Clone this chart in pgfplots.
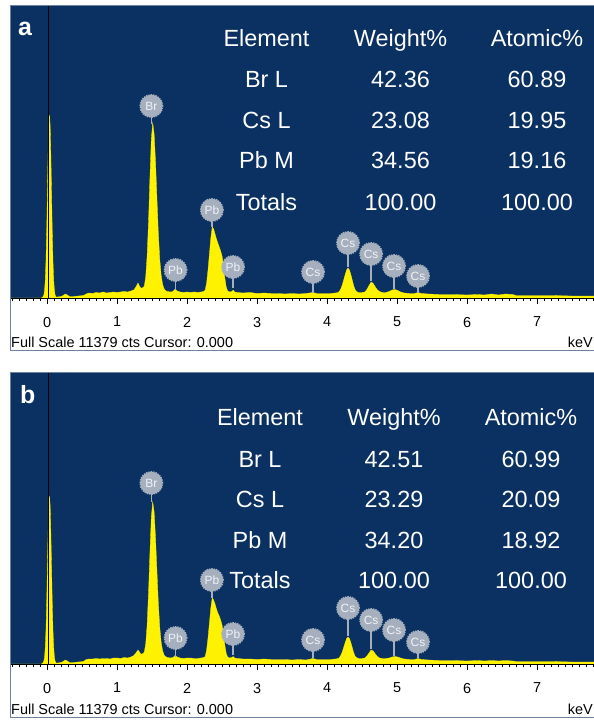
\documentclass[border=0pt]{standalone}
\usepackage{fontspec}
\setmainfont{Liberation Sans}
\usepackage{pgfplots}
\pgfplotsset{compat=1.18}
\usepackage{pgfplotstable}
\definecolor{navy}{RGB}{10,49,97}
\definecolor{labc}{RGB}{165,175,190}
\definecolor{labt}{RGB}{240,243,247}
\definecolor{framec}{RGB}{110,130,160}
\newcommand{\tabfont}{\fontsize{23.5}{28}\selectfont}
\newcommand{\tickfont}{\fontsize{14.5}{16}\selectfont}
\newcommand{\labfont}{\fontsize{12}{13}\selectfont}
\newcommand{\pk}[4]{%
  \draw[labc, line width=1.6bp] (axis cs:#1,#3) -- (axis cs:#1,#2);
  \node[circle, fill=labc, draw=labc, line width=1.5bp, dash pattern=on 1.3bp off 1.1bp,
        inner sep=0pt, minimum size=22.5bp, text=labt, font=\labfont] at (axis cs:#1,#2) {#4};}

% spectrum a: energy (keV), counts (scaled, full scale = 293)
\pgfplotstableread{
x y
-0.53 0
-0.08 0
-0.06 1
-0.045 3
-0.035 8
-0.025 18
-0.015 37
-0.005 66
0.005 103
0.015 142
0.025 172
0.035 183
0.045 172
0.055 142
0.065 103
0.075 66
0.085 37
0.095 18
0.105 8
0.115 3
0.13 1
0.15 1
0.20 1.5
0.23 2.5
0.26 4
0.29 3
0.32 1.5
0.38 1.5
0.45 2
0.52 2.5
0.56 4
0.60 5
0.65 4.5
0.70 5.5
0.75 5
0.80 6
0.85 5
0.90 5.5
0.95 6
1.00 5.5
1.05 6
1.10 6.5
1.15 6
1.20 7
1.24 8
1.27 11
1.30 15
1.32 12
1.34 10
1.36 10
1.38 11
1.39 12
1.41 21
1.43 42
1.45 76
1.47 120
1.49 159
1.51 175
1.53 164
1.55 136
1.57 100
1.59 65
1.61 39
1.63 23
1.65 14
1.67 9.5
1.69 7.5
1.72 6.5
1.76 6
1.80 6.5
1.83 9
1.86 7
1.90 6
1.95 5.5
2.00 6
2.05 5.5
2.10 6
2.15 5.5
2.20 6
2.24 6.5
2.26 8
2.28 15
2.30 28
2.32 44
2.34 60
2.36 71
2.38 69
2.40 64
2.42 59
2.44 55
2.46 51
2.48 47
2.50 42
2.52 33
2.54 20
2.56 11
2.58 7
2.61 6
2.64 6.5
2.66 8
2.68 6
2.72 5.5
2.80 5
2.90 5.5
3.00 4.5
3.10 5
3.20 4.5
3.30 4.5
3.40 4
3.50 4.5
3.60 4
3.70 4.5
3.80 5.5
3.85 4.5
3.95 4.5
4.05 4.5
4.12 5
4.16 5.5
4.18 7
4.20 9.5
4.22 13.5
4.24 18.5
4.26 23.5
4.28 28
4.30 30
4.32 28
4.34 23.5
4.36 18
4.38 12.5
4.40 8.5
4.42 6.5
4.45 5.5
4.50 5.5
4.54 6
4.57 8.5
4.60 12.5
4.63 16
4.66 14.5
4.69 11
4.72 8
4.75 6.5
4.79 5.5
4.84 5.5
4.89 6.5
4.93 8
4.97 8.5
5.01 7.5
5.05 6
5.10 5
5.18 4.5
5.25 4.5
5.30 5.5
5.35 4.5
5.45 4
5.60 3.5
5.80 3.5
6.00 3
6.15 3.5
6.25 3
6.35 4
6.45 3
6.55 4
6.65 3.5
6.70 2.5
6.90 2.5
7.20 2.5
7.50 2
7.82 2
}\specA

% spectrum b
\pgfplotstableread{
x y
-0.53 0
-0.08 0
-0.06 1
-0.045 3
-0.035 7
-0.025 17
-0.015 34
-0.005 61
0.005 95
0.015 130
0.025 158
0.035 168
0.045 158
0.055 130
0.065 95
0.075 61
0.085 34
0.095 17
0.105 7
0.115 3
0.13 1
0.15 1
0.20 1.5
0.23 2.5
0.26 4
0.29 3
0.32 1.5
0.38 1.5
0.45 2
0.52 2.5
0.56 4.5
0.60 5
0.65 5
0.70 5.5
0.75 5
0.80 5.5
0.85 5.5
0.90 5
0.95 6
1.00 6
1.05 5.5
1.10 6.5
1.15 6
1.20 7
1.24 8.5
1.27 11
1.30 14
1.32 12
1.34 10
1.36 10
1.38 11
1.39 12
1.41 20
1.43 39
1.45 71
1.47 111
1.49 147
1.51 162
1.53 152
1.55 126
1.57 93
1.59 61
1.61 37
1.63 22
1.65 13.5
1.67 9.3
1.69 7.5
1.72 6.5
1.76 6
1.80 6.5
1.83 8.5
1.86 7
1.90 6
1.95 5.5
2.00 6
2.05 6
2.10 5.5
2.15 5.5
2.20 6
2.24 6.5
2.26 7.5
2.28 14
2.30 26
2.32 41
2.34 56
2.36 66
2.38 64
2.40 60
2.42 55
2.44 51
2.46 48
2.48 44
2.50 39
2.52 31
2.54 19
2.56 10.5
2.58 7
2.61 6
2.64 6.5
2.66 7.5
2.68 6
2.72 5.5
2.80 5
2.90 5
3.00 4.5
3.10 5
3.20 4.5
3.30 4.5
3.40 4.5
3.50 4
3.60 4.5
3.70 4
3.80 5.5
3.85 4.5
3.95 4.5
4.05 4.5
4.12 5
4.16 5.5
4.18 6.8
4.20 9
4.22 12.5
4.24 17
4.26 21.5
4.28 25.5
4.30 27
4.32 25.5
4.34 21.5
4.36 16.5
4.38 11.5
4.40 8
4.42 6.5
4.45 5.5
4.50 5.5
4.54 6
4.57 8
4.60 11
4.63 14
4.66 13
4.69 10
4.72 7.5
4.75 6
4.79 5.5
4.84 5.5
4.89 6
4.93 7
4.97 7.5
5.01 7
5.05 6
5.10 5
5.18 4.5
5.25 4.5
5.30 5.5
5.35 4.5
5.45 4
5.60 3.5
5.80 3.5
6.00 3
6.15 3.5
6.25 3
6.35 3.5
6.45 3
6.55 3.5
6.65 3
6.70 2.5
6.90 2.5
7.20 2.5
7.50 2
7.82 2
}\specB

\pgfplotsset{
  eds/.style={
    scale only axis, width=584bp, anchor=south west,
    xmin=-0.529, xmax=7.814, ymin=0,
    axis background/.style={fill=navy},
    axis line style={draw=none},
    xtick={0,...,7},
    minor xtick={-0.5,-0.4,...,7.8},
    ytick=\empty,
    xtick pos=left,
    tick align=outside,
    major tick length=6bp, minor tick length=3bp,
    tick style={black, line width=0.6bp},
    xticklabel style={font=\tickfont, yshift=-9.5bp},
    /pgf/number format/assume math mode=true,
  }
}

\begin{document}
\begin{tikzpicture}
\useasboundingbox (0,0) rectangle (594bp,-722bp);

% ---------- panel a ----------
\begin{axis}[eds, at={(10bp,-298bp)}, height=293bp, ymax=293]
\addplot[draw=yellow, fill=yellow, line width=0.3bp] table[x=x,y=y] {\specA} \closedcycle;
\draw[black, line width=0.8bp] (axis cs:0.02,0) -- (axis cs:0.02,293);
\draw[black, line width=0.8bp] (rel axis cs:0,0) -- (rel axis cs:1,0);
\pk{1.49}{192}{174}{Br}
\pk{1.836}{28}{8}{Pb}
\pk{2.355}{88}{71}{Pb}
\pk{2.657}{31}{10}{Pb}
\pk{3.80}{26}{5}{Cs}
\pk{4.30}{55}{31}{Cs}
\pk{4.63}{44}{17}{Cs}
\pk{4.957}{32}{9}{Cs}
\pk{5.30}{22}{5}{Cs}
\end{axis}
\draw[framec, line width=1bp] (10bp,-350bp) rectangle (600bp,-5bp);
\node[text=white, font=\fontsize{25}{28}\selectfont\bfseries, anchor=base west, inner sep=0pt] at (18bp,-35bp) {a};
\begin{scope}[every node/.style={text=white, font=\tabfont, anchor=base, inner sep=0pt}]
\node at (266.5bp,-46.7bp) {Element};
\node at (400.5bp,-46.7bp) {Weight\%};
\node at (537bp,-46.7bp) {Atomic\%};
\node at (266.5bp,-87.3bp) {Br L};
\node at (400.5bp,-87.3bp) {42.36};
\node at (537bp,-87.3bp) {60.89};
\node at (266.5bp,-128.3bp) {Cs L};
\node at (400.5bp,-128.3bp) {23.08};
\node at (537bp,-128.3bp) {19.95};
\node at (266.5bp,-168.3bp) {Pb M};
\node at (400.5bp,-168.3bp) {34.56};
\node at (537bp,-168.3bp) {19.16};
\node at (266.5bp,-210bp) {Totals};
\node at (400.5bp,-210bp) {100.00};
\node at (537bp,-210bp) {100.00};
\end{scope}
\node[font=\tickfont, anchor=base west, inner sep=0pt] at (11bp,-347bp) {Full Scale 11379 cts Cursor: 0.000};
\node[font=\tickfont, anchor=base east, inner sep=0pt] at (593bp,-347bp) {keV};

% ---------- panel b ----------
\begin{axis}[eds, at={(10bp,-664bp)}, height=292bp, ymax=292]
\addplot[draw=yellow, fill=yellow, line width=0.3bp] table[x=x,y=y] {\specB} \closedcycle;
\draw[black, line width=0.8bp] (axis cs:0.02,0) -- (axis cs:0.02,292);
\draw[black, line width=0.8bp] (rel axis cs:0,0) -- (rel axis cs:1,0);
\pk{1.49}{181}{162}{Br}
\pk{1.836}{26}{7}{Pb}
\pk{2.355}{84}{66}{Pb}
\pk{2.657}{30}{9}{Pb}
\pk{3.80}{24}{6}{Cs}
\pk{4.30}{56}{28}{Cs}
\pk{4.63}{44}{15}{Cs}
\pk{4.957}{34}{8}{Cs}
\pk{5.30}{22}{6}{Cs}
\end{axis}
\draw[framec, line width=1bp] (10bp,-717bp) rectangle (600bp,-372bp);
\node[text=white, font=\fontsize{25}{28}\selectfont\bfseries, anchor=base west, inner sep=0pt] at (20bp,-403.3bp) {b};
\begin{scope}[every node/.style={text=white, font=\tabfont, anchor=base, inner sep=0pt}]
\node at (260bp,-425.7bp) {Element};
\node at (394bp,-425.7bp) {Weight\%};
\node at (531bp,-425.7bp) {Atomic\%};
\node at (260bp,-467.3bp) {Br L};
\node at (394bp,-467.3bp) {42.51};
\node at (531bp,-467.3bp) {60.99};
\node at (260bp,-507.3bp) {Cs L};
\node at (394bp,-507.3bp) {23.29};
\node at (531bp,-507.3bp) {20.09};
\node at (260bp,-548bp) {Pb M};
\node at (394bp,-548bp) {34.20};
\node at (531bp,-548bp) {18.92};
\node at (260bp,-588.3bp) {Totals};
\node at (394bp,-588.3bp) {100.00};
\node at (531bp,-588.3bp) {100.00};
\end{scope}
\node[font=\tickfont, anchor=base west, inner sep=0pt] at (11bp,-714bp) {Full Scale 11379 cts Cursor: 0.000};
\node[font=\tickfont, anchor=base east, inner sep=0pt] at (593bp,-714bp) {keV};
\end{tikzpicture}
\end{document}
